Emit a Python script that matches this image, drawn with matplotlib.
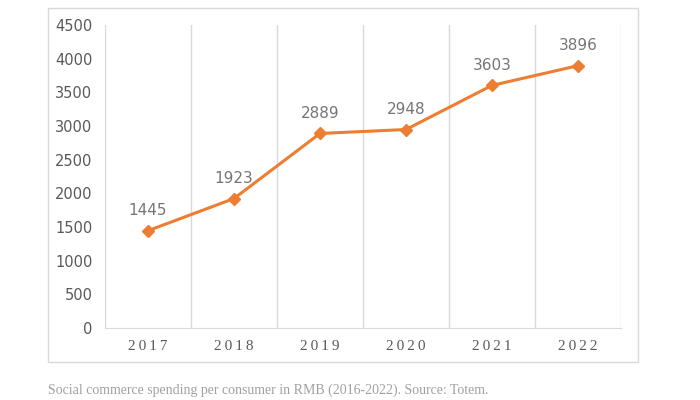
import matplotlib
matplotlib.use("Agg")
import matplotlib.pyplot as plt
from matplotlib.patches import Rectangle

years = ["2017", "2018", "2019", "2020", "2021", "2022"]
values = [1445, 1923, 2889, 2948, 3603, 3896]
yticks = [0, 500, 1000, 1500, 2000, 2500, 3000, 3500, 4000, 4500]
caption = "Social commerce spending per consumer in RMB (2016-2022). Source: Totem."

W, H = 700, 400
fig = plt.figure(figsize=(7, 4), dpi=100)
fig.patch.set_facecolor("white")

# outer chart box
fig.add_artist(Rectangle((48 / W, 1 - 362 / H), (638 - 48) / W, (362 - 8) / H,
                         transform=fig.transFigure, fill=False,
                         edgecolor="#d9d9d9", linewidth=1.0))

ax = fig.add_axes([105 / W, 1 - 328 / H, (621 - 105) / W, (328 - 25) / H])
x = list(range(len(years)))
ax.plot(x, values, color="#ED7D31", linewidth=2.2, marker="D", markersize=6.5, zorder=3)
for xi, v in zip(x, values):
    ax.annotate(str(v), (xi, v), xytext=(0, 9), textcoords="offset points",
                ha="center", va="bottom", fontsize=11, color="#757575",
                family="DejaVu Sans")

ax.set_xlim(-0.5, len(years) - 0.5)
ax.set_ylim(0, 4500)
ax.set_yticks(yticks)
ax.set_yticklabels([str(t) for t in yticks], fontsize=10.5, color="#595959", family="DejaVu Sans")
ax.set_xticks(x)
ax.set_xticklabels(["\u2009".join(y) for y in years], fontsize=11, color="#595959",
                   family="Liberation Serif")
ax.tick_params(axis="both", length=0)
ax.tick_params(axis="x", pad=9)
ax.tick_params(axis="y", pad=9)

for b in [i - 0.5 for i in range(len(years) + 1)]:
    ax.axvline(b, color="#d9d9d9", linewidth=1.0, zorder=1)
for s in ["top", "right", "left"]:
    ax.spines[s].set_visible(False)
ax.spines["bottom"].set_color("#d9d9d9")

fig.text(48 / W, 1 - 390 / H, caption, fontsize=10, color="#a0a0a0",
         family="Liberation Serif", va="center", ha="left")

fig.savefig("out.png", dpi=100)
